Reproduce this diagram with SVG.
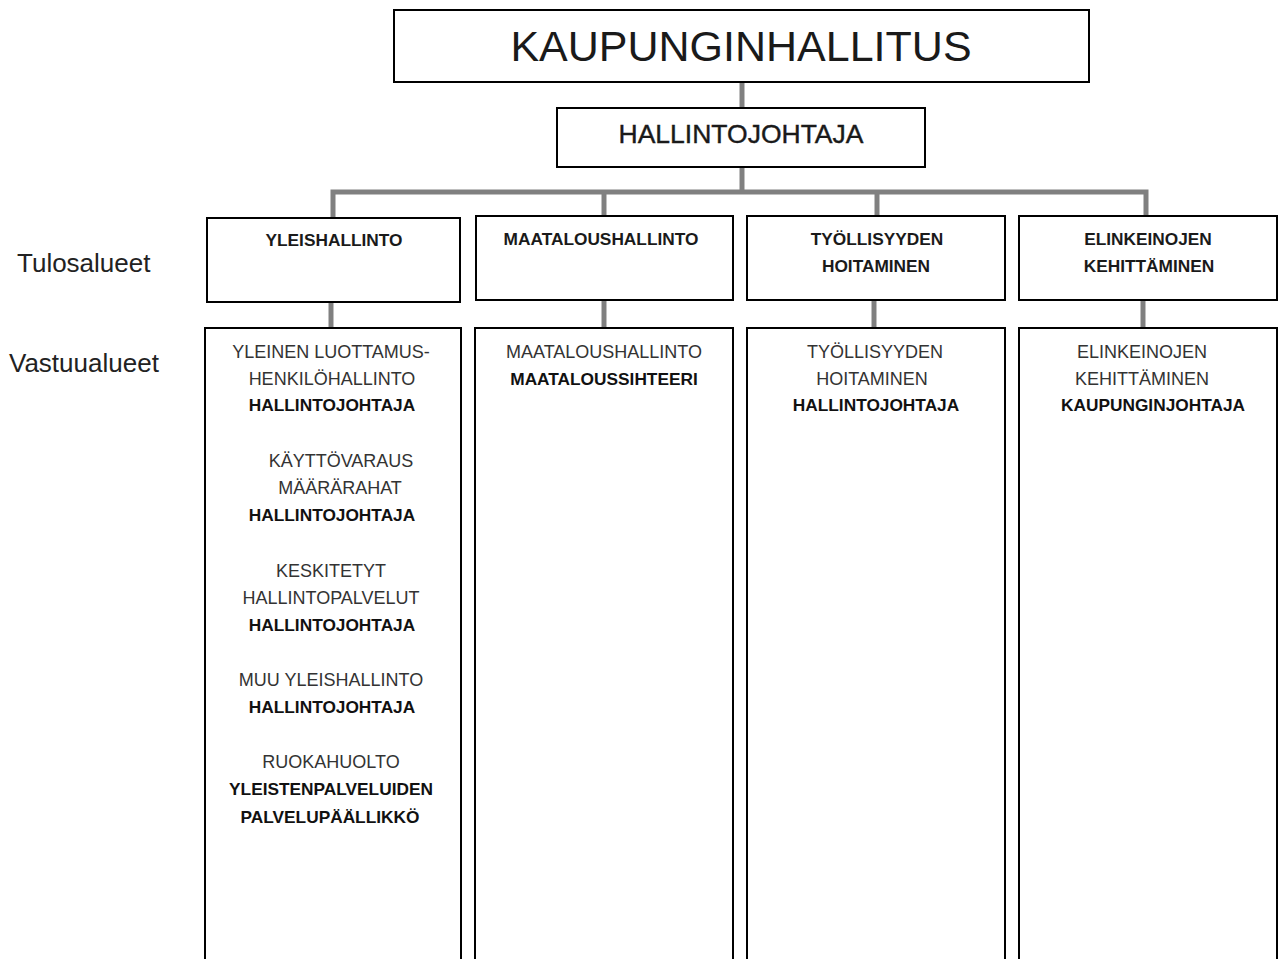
<svg xmlns="http://www.w3.org/2000/svg" width="1279" height="959" viewBox="0 0 1279 959">
<style>
.box{fill:#fff;stroke:#000;stroke-width:2}
.con{stroke:#808080;stroke-width:5;fill:none}
text{font-family:"Liberation Sans",Arial,sans-serif;text-anchor:middle}
.t1{font-size:43px;fill:#1a1a1a}
.t2{font-size:26.5px;fill:#1a1a1a;stroke:#1a1a1a;stroke-width:0.4}
.h{font-size:17.3px;font-weight:bold;fill:#1a1a1a}
.r{font-size:18px;fill:#333}
.b{font-size:17.3px;font-weight:bold;fill:#111}
.side{font-size:26px;fill:#222;text-anchor:start}
</style>
<g id="connectors">
<line class="con" x1="742" y1="82" x2="742" y2="108"/>
<polyline class="con" points="742,167 742,192"/>
<polyline class="con" points="333,218 333,192 1146,192 1146,217"/>
<line class="con" x1="604" y1="192" x2="604" y2="216"/>
<line class="con" x1="877" y1="192" x2="877" y2="216"/>
<line class="con" x1="331" y1="302" x2="331" y2="328"/>
<line class="con" x1="604" y1="300" x2="604" y2="328"/>
<line class="con" x1="874" y1="300" x2="874" y2="328"/>
<line class="con" x1="1143" y1="300" x2="1143" y2="328"/>
</g>
<g id="kaupunginhallitus">
<rect class="box" x="394" y="10" width="695" height="72"/>
<text class="t1" x="741" y="61">KAUPUNGINHALLITUS</text>
</g>
<g id="hallintojohtaja">
<rect class="box" x="557" y="108" width="368" height="59"/>
<text class="t2" x="741" y="143">HALLINTOJOHTAJA</text>
</g>
<g id="label-tulosalueet"><text class="side" x="17" y="272">Tulosalueet</text></g>
<g id="label-vastuualueet"><text class="side" x="9" y="372">Vastuualueet</text></g>
<g id="t-yleishallinto">
<rect class="box" x="207" y="218" width="253" height="84"/>
<text class="h" x="334" y="246">YLEISHALLINTO</text>
</g>
<g id="t-maatalous">
<rect class="box" x="476" y="216" width="257" height="84"/>
<text class="h" x="601" y="245">MAATALOUSHALLINTO</text>
</g>
<g id="t-tyollisyys">
<rect class="box" x="747" y="216" width="258" height="84"/>
<text class="h" x="877" y="245">TYÖLLISYYDEN</text>
<text class="h" x="876" y="272">HOITAMINEN</text>
</g>
<g id="t-elinkeino">
<rect class="box" x="1019" y="216" width="258" height="84"/>
<text class="h" x="1148" y="245">ELINKEINOJEN</text>
<text class="h" x="1149" y="272">KEHITTÄMINEN</text>
</g>
<g id="v-yleishallinto">
<rect class="box" x="205" y="328" width="256" height="640"/>
<text class="r" x="331" y="358">YLEINEN LUOTTAMUS-</text>
<text class="r" x="332" y="385">HENKILÖHALLINTO</text>
<text class="b" x="332" y="411">HALLINTOJOHTAJA</text>
<text class="r" x="341" y="467">KÄYTTÖVARAUS</text>
<text class="r" x="340" y="494">MÄÄRÄRAHAT</text>
<text class="b" x="332" y="521">HALLINTOJOHTAJA</text>
<text class="r" x="331" y="577">KESKITETYT</text>
<text class="r" x="331" y="604">HALLINTOPALVELUT</text>
<text class="b" x="332" y="631">HALLINTOJOHTAJA</text>
<text class="r" x="331" y="686">MUU YLEISHALLINTO</text>
<text class="b" x="332" y="713">HALLINTOJOHTAJA</text>
<text class="r" x="331" y="768">RUOKAHUOLTO</text>
<text class="b" x="331" y="795">YLEISTENPALVELUIDEN</text>
<text class="b" x="330" y="823">PALVELUPÄÄLLIKKÖ</text>
</g>
<g id="v-maatalous">
<rect class="box" x="475" y="328" width="258" height="640"/>
<text class="r" x="604" y="358">MAATALOUSHALLINTO</text>
<text class="b" x="604" y="385">MAATALOUSSIHTEERI</text>
</g>
<g id="v-tyollisyys">
<rect class="box" x="747" y="328" width="258" height="640"/>
<text class="r" x="875" y="358">TYÖLLISYYDEN</text>
<text class="r" x="872" y="385">HOITAMINEN</text>
<text class="b" x="876" y="411">HALLINTOJOHTAJA</text>
</g>
<g id="v-elinkeino">
<rect class="box" x="1019" y="328" width="258" height="640"/>
<text class="r" x="1142" y="358">ELINKEINOJEN</text>
<text class="r" x="1142" y="385">KEHITTÄMINEN</text>
<text class="b" x="1153" y="411">KAUPUNGINJOHTAJA</text>
</g>
</svg>
